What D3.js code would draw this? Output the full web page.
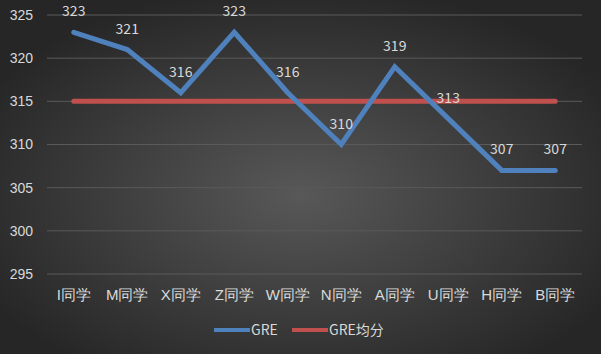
<!DOCTYPE html>
<html>
<head>
<meta charset="utf-8">
<script src="https://cdn.jsdelivr.net/npm/d3@7"></script>
<style>
  body { margin: 0; background: #2a2a2a; }
  svg { display: block; font-family: "Noto Sans CJK SC", "DejaVu Sans", sans-serif; }
</style>
</head>
<body>
<div class="container"></div>
<script>
const WIDTH = 601;
const HEIGHT = 354;

var students = ["I同学", "M同学", "X同学", "Z同学", "W同学", "N同学", "A同学", "U同学", "H同学", "B同学"];
var greScores = [323, 321, 316, 323, 316, 310, 319, 313, 307, 307];
var greAverage = [315, 315, 315, 315, 315, 315, 315, 315, 315, 315];
var yTicks = [295, 300, 305, 310, 315, 320, 325];
var seriesNames = ["GRE", "GRE均分"];

var margin = {left: 47, right: 19, top: 15, bottom: 80};

var svg = d3.select(".container")
    .append("svg")
    .attr("width", WIDTH)
    .attr("height", HEIGHT);

var defs = svg.append("defs");
var grad = defs.append("radialGradient")
    .attr("id", "bg")
    .attr("cx", "50%").attr("cy", "55%").attr("r", "60%");
grad.append("stop").attr("offset", "0%").attr("stop-color", "#585858");
grad.append("stop").attr("offset", "100%").attr("stop-color", "#262626");

svg.append("rect")
    .attr("width", WIDTH)
    .attr("height", HEIGHT)
    .attr("fill", "url(#bg)");

var x = d3.scaleBand()
    .domain(students)
    .range([margin.left, WIDTH - margin.right]);

var y = d3.scaleLinear()
    .domain([295, 325])
    .range([HEIGHT - margin.bottom, margin.top]);

// gridlines
svg.append("g")
    .selectAll("line")
    .data(yTicks)
    .enter().append("line")
    .attr("x1", margin.left)
    .attr("x2", WIDTH - margin.right)
    .attr("y1", d => y(d))
    .attr("y2", d => y(d))
    .attr("stroke", "#5a5a5a")
    .attr("stroke-width", 1);

var yAxis = d3.axisLeft(y).tickValues(yTicks).tickSize(0).tickPadding(14);
svg.append("g")
    .attr("transform", "translate(" + margin.left + ",0)")
    .call(yAxis)
    .call(g => g.select(".domain").remove())
    .selectAll("text")
    .attr("fill", "#d9d9d9")
    .style("font-size", "14px");

var xAxis = d3.axisBottom(x).tickSize(0).tickPadding(15);
svg.append("g")
    .attr("transform", "translate(0," + (HEIGHT - margin.bottom) + ")")
    .call(xAxis)
    .call(g => g.select(".domain").remove())
    .selectAll("text")
    .attr("fill", "#d9d9d9")
    .style("font-size", "15px");

var cx = d => x(d) + x.bandwidth() / 2;

var line = d3.line()
    .x((d, i) => cx(students[i]))
    .y(d => y(d));

svg.append("path")
    .attr("d", line(greAverage))
    .attr("fill", "none")
    .attr("stroke", "#c0504d")
    .attr("stroke-width", 5)
    .attr("stroke-linecap", "round");

svg.append("path")
    .attr("d", line(greScores))
    .attr("fill", "none")
    .attr("stroke", "#4f81bd")
    .attr("stroke-width", 5)
    .attr("stroke-linecap", "round")
    .attr("stroke-linejoin", "miter");

svg.append("g")
    .selectAll("text")
    .data(greScores)
    .enter().append("text")
    .attr("x", (d, i) => cx(students[i]))
    .attr("y", d => y(d) - 16)
    .attr("text-anchor", "middle")
    .attr("fill", "#d9d9d9")
    .style("font-size", "14px")
    .text(d => d);

// legend
var legendColors = ["#4f81bd", "#c0504d"];
var legendX = [214, 292];
var legend = svg.append("g")
    .selectAll("g")
    .data(seriesNames)
    .enter().append("g")
    .attr("transform", (d, i) => "translate(" + legendX[i] + ",330)");
legend.append("line")
    .attr("x1", 0).attr("x2", 36)
    .attr("stroke", (d, i) => legendColors[i])
    .attr("stroke-width", 4);
legend.append("text")
    .attr("x", 37)
    .attr("dy", "0.35em")
    .attr("fill", "#d9d9d9")
    .style("font-size", "14px")
    .text(d => d);
</script>
</body>
</html>
